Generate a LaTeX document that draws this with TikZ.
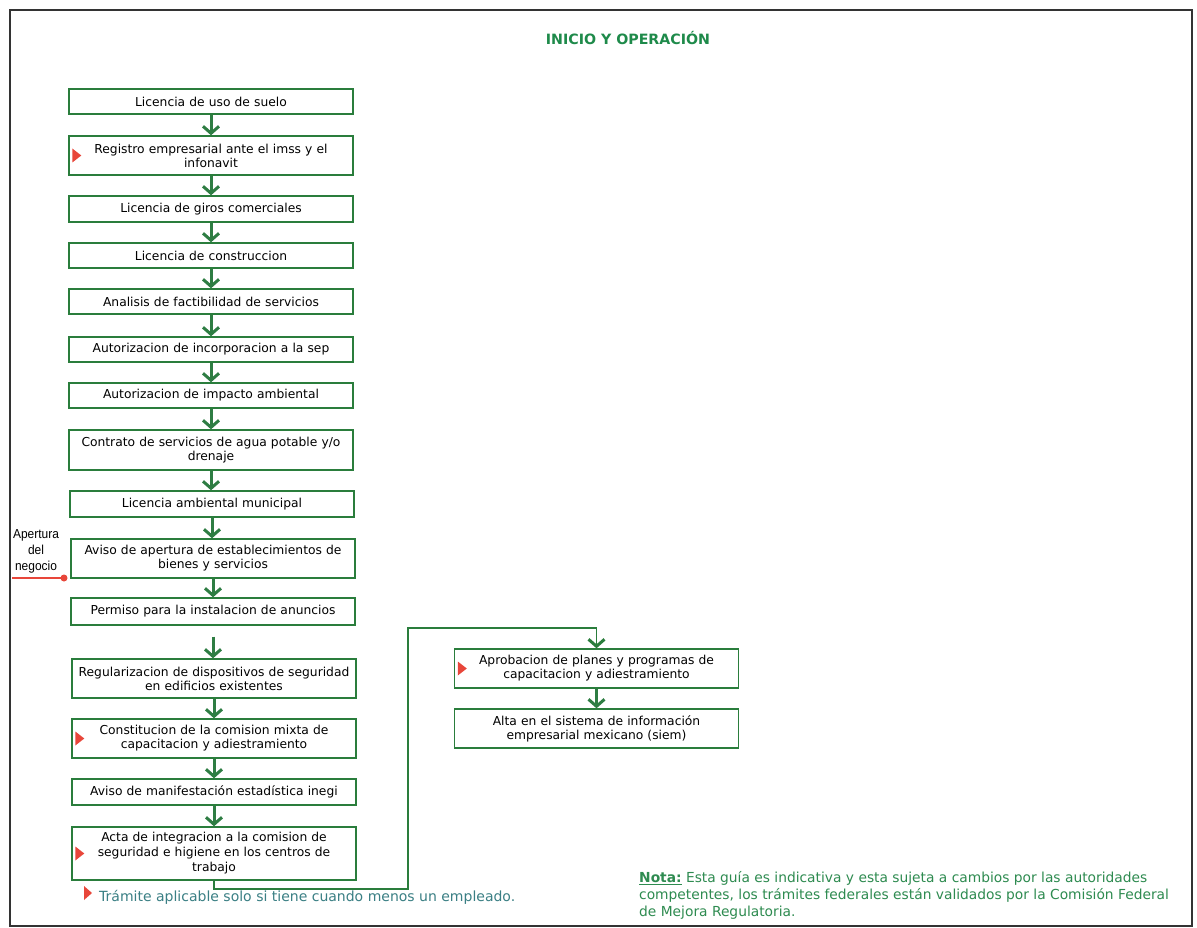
\documentclass[tikz,border=0pt]{standalone}
\usepackage{fontspec}
\setmainfont{DejaVu Sans}
\newfontfamily\arialf{Liberation Sans}
\usetikzlibrary{arrows.meta,calc,positioning}
\definecolor{boxgreen}{HTML}{2A7D3C}
\definecolor{arrgreen}{HTML}{2E7D43}
\definecolor{titlegreen}{HTML}{1E8A4A}
\definecolor{legteal}{HTML}{3A7F84}
\definecolor{notagreen}{HTML}{2E8B50}
\definecolor{redmk}{HTML}{E8463A}
\definecolor{framegray}{HTML}{333333}
\tikzset{
  stepbox/.style={draw=boxgreen, line width=1.4pt, minimum width=284pt, align=center,
     font=\fontsize{12.3}{14}\selectfont, inner sep=1pt, text width=282pt},
  flow/.style={draw=arrgreen, line width=3pt, -{Straight Barb[length=7pt,width=16pt,line width=3pt]}},
  link/.style={draw=boxgreen, line width=1.3pt, -{Straight Barb[length=7pt,width=16pt,line width=3pt]}},
}
\newcommand{\redmark}[1]{\fill[redmk] ($(#1.west)+(4,-7)$) -- ++(9,7) -- ++(-9,7) -- cycle;}
\begin{document}
\begin{tikzpicture}[x=1pt,y=-1pt]
\useasboundingbox (0,0) rectangle (1197,928);
\fill[white] (0,0) rectangle (1197,928);
\draw[framegray, line width=2pt] (10,10) rectangle (1192,926);

\node[font=\bfseries\fontsize{14.2}{16}\selectfont, text=titlegreen] (title) at (628,38) {INICIO Y OPERACIÓN};

\node[stepbox, minimum height=25pt] (b1) at (211,101.5) {Licencia de uso de suelo};
\node[stepbox, minimum height=39pt] (b2) at (211,155.5) {Registro empresarial ante el imss y el\\infonavit};
\node[stepbox, minimum height=26pt] (b3) at (211,209) {Licencia de giros comerciales};
\node[stepbox, minimum height=25pt] (b4) at (211,255.5) {Licencia de construccion};
\node[stepbox, minimum height=25pt] (b5) at (211,301.5) {Analisis de factibilidad de servicios};
\node[stepbox, minimum height=25pt] (b6) at (211,349.5) {Autorizacion de incorporacion a la sep};
\node[stepbox, minimum height=25pt] (b7) at (211,395.5) {Autorizacion de impacto ambiental};
\node[stepbox, minimum height=40pt] (b8) at (211,450) {Contrato de servicios de agua potable y/o\\drenaje};
\node[stepbox, minimum height=26pt] (b9) at (212,504) {Licencia ambiental municipal};
\node[stepbox, minimum height=39pt] (b10) at (213,558.5) {Aviso de apertura de establecimientos de\\bienes y servicios};
\node[stepbox, minimum height=27pt] (b11) at (213,611.5) {Permiso para la instalacion de anuncios};
\node[stepbox, minimum height=39pt] (b12) at (214,678.5) {Regularizacion de dispositivos de seguridad\\en edificios existentes};
\node[stepbox, minimum height=39pt] (b13) at (214,738.5) {Constitucion de la comision mixta de\\capacitacion y adiestramiento};
\node[stepbox, minimum height=26pt] (b14) at (214,792) {Aviso de manifestación estadística inegi};
\node[stepbox, minimum height=53pt, font=\fontsize{12.3}{15}\selectfont] (b15) at (214,853.5) {Acta de integracion a la comision de\\seguridad e higiene en los centros de\\trabajo};

\node[stepbox, minimum width=283pt, minimum height=39pt] (r1) at (596.5,668.5) {Aprobacion de planes y programas de\\capacitacion y adiestramiento};
\node[stepbox, minimum width=283pt, minimum height=39pt] (r2) at (596.5,728.5) {Alta en el sistema de información\\empresarial mexicano (siem)};

\foreach \a/\b in {b1/b2,b2/b3,b3/b4,b4/b5,b5/b6,b6/b7,b7/b8,b8/b9,b9/b10,b10/b11,b12/b13,b13/b14,b14/b15,r1/r2}
  \draw[flow] (\a.south) -- (\a.south |- \b.north);
\draw[flow, shorten <=11pt] (b11.south) -- (b11.south |- b12.north);

\redmark{b2}
\redmark{b13}
\redmark{b15}
\redmark{r1}

\coordinate (k1) at (408,889);
\coordinate (k2) at (408,628);
\draw[link] (b15.south) |- (k1) -- (k2) -| (r1.north);

\node[font=\arialf\fontsize{13}{16}\selectfont, align=center, inner sep=0pt, xscale=0.92] (apert) at (36,551) {Apertura\\del\\negocio};
\coordinate (a0) at (12,578);
\coordinate (a1) at (64,578);
\draw[redmk, line width=2pt] (a0) -- (a1);
\fill[redmk] (a1) circle (3.5);

\fill[redmk] (84,886) -- (92,893) -- (84,900) -- cycle;
\node[anchor=west, text=legteal, font=\fontsize{14}{16}\selectfont, inner sep=0pt] (legend) at (99,897) {Trámite aplicable solo si tiene cuando menos un empleado.};

\node[anchor=north west, text=notagreen, align=left, font=\fontsize{13.8}{17}\selectfont, inner sep=0pt] (nota) at (639,871) {\textbf{\underline{Nota:}} Esta guía es indicativa y esta sujeta a cambios por las autoridades\\competentes, los trámites federales están validados por la Comisión Federal\\de Mejora Regulatoria.};
\end{tikzpicture}
\end{document}
